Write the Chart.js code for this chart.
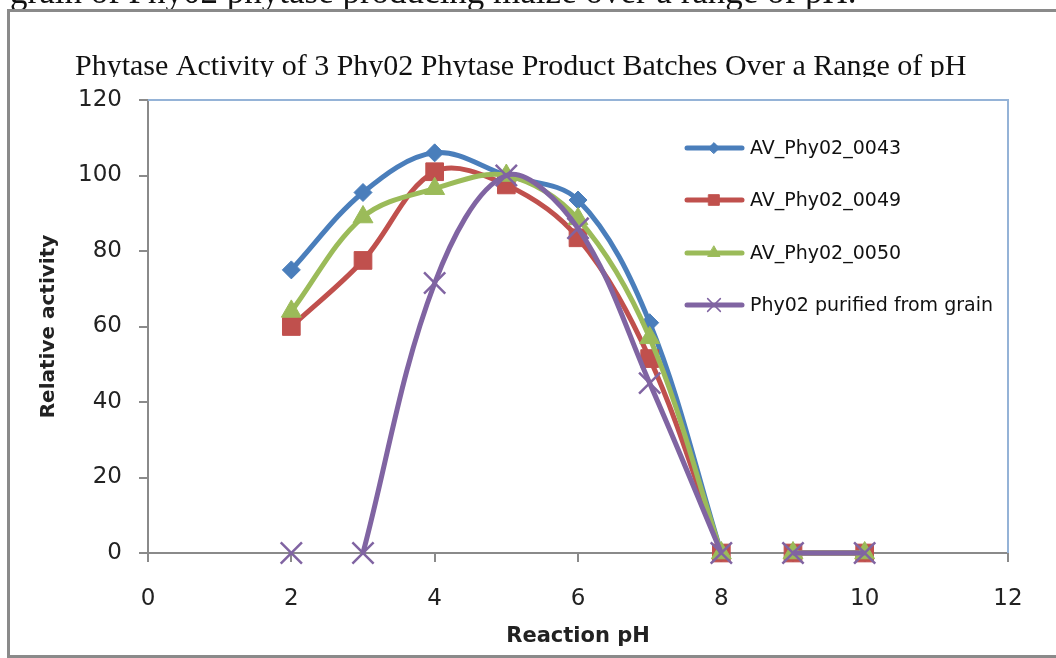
<!DOCTYPE html>
<html><head><meta charset="utf-8">
<script src="https://cdn.jsdelivr.net/npm/chart.js@4.4.1/dist/chart.umd.min.js"></script>
<style>html,body{margin:0;padding:0;background:#fff;overflow:hidden}
canvas{display:block}</style></head>
<body><canvas id="c" width="1056" height="658"></canvas>
<script>
// ---- data ----
const pageText = 'grain of Phy02 phytase producing maize over a range of pH.';
const chartTitle = 'Phytase Activity of 3 Phy02 Phytase Product Batches Over a Range of pH';
const xTitle = 'Reaction pH';
const yTitle = 'Relative activity';
const phValues = [2, 3, 4, 5, 6, 7, 8, 9, 10];
const seriesNames = ['AV_Phy02_0043', 'AV_Phy02_0049', 'AV_Phy02_0050', 'Phy02 purified from grain'];
const av0043 = [75, 95.5, 106, 100, 93.5, 61, 0, 0, 0];
const av0049 = [60, 77.5, 101, 97.5, 83.5, 51.5, 0, 0, 0];
const av0050 = [64, 89, 96.5, 100, 88.5, 57, 0, 0, 0];
const purified = [0, 0, 71.5, 100, 86, 45, 0, 0, 0];
const xTicks = [0, 2, 4, 6, 8, 10, 12];
const yTicks = [0, 20, 40, 60, 80, 100, 120];

// ---- styles ----
const colors = ['#4A7EBB', '#C0504D', '#9BBB59', '#8064A2'];
const shapes = ['rectRot', 'rect', 'triangle', 'crossRot'];
const radii = [9, 12.5, 11.5, 15];
// line is broken (not drawn) after these pH values, as in the source
const breakAfter = [[8], [8], [8], [2, 8]];
const seriesValues = [av0043, av0049, av0050, purified];

function buildPoints(vals, breaks) {
  const pts = [];
  phValues.forEach((x, j) => {
    pts.push({x: x, y: vals[j]});
    if (breaks.includes(x)) pts.push({x: x, y: null});
  });
  return pts;
}

const datasets = seriesValues.map((vals, i) => ({
  label: seriesNames[i],
  data: buildPoints(vals, breakAfter[i]),
  borderColor: colors[i],
  backgroundColor: colors[i],
  borderWidth: 5,
  pointStyle: shapes[i],
  pointRadius: radii[i],
  pointBorderWidth: i === 3 ? 2.5 : 1,
  pointBackgroundColor: colors[i],
  pointBorderColor: colors[i],
  tension: 0.35,
  spanGaps: false,
  clip: false,
  order: 3 - i
}));

const decor = {
  id: 'decor',
  beforeDraw(chart) {
    const ctx = chart.ctx;
    ctx.save();
    ctx.fillStyle = '#fff';
    ctx.fillRect(0, 0, chart.width, chart.height);
    // page text cut off above the figure
    ctx.fillStyle = '#111';
    ctx.font = '35px "Liberation Serif"';
    ctx.textBaseline = 'alphabetic';
    ctx.fillText(pageText, 10, 3);
    // outer frame
    ctx.strokeStyle = '#8a8a8a';
    ctx.lineWidth = 3;
    ctx.strokeRect(8.5, 10.5, 1100, 646);
    // title (clipped at its bottom like the source)
    ctx.beginPath();
    ctx.rect(0, 20, chart.width, 57);
    ctx.clip();
    ctx.fillStyle = '#111';
    ctx.font = '30px "Liberation Serif"';
    ctx.fillText(chartTitle, 75, 75);
    ctx.restore();
  },
  afterDraw(chart) {
    const ctx = chart.ctx;
    const a = chart.chartArea;
    ctx.save();
    // plot area top / right border
    ctx.strokeStyle = '#95B3D7';
    ctx.lineWidth = 2;
    ctx.beginPath();
    ctx.moveTo(a.left, a.top);
    ctx.lineTo(a.right, a.top);
    ctx.lineTo(a.right, a.bottom);
    ctx.stroke();
    // legend
    const ys = [148, 200, 253, 305];
    ctx.font = '19px "DejaVu Sans"';
    ctx.textBaseline = 'middle';
    chart.data.datasets.forEach((ds, i) => {
      const y = ys[i];
      ctx.strokeStyle = ds.borderColor;
      ctx.lineWidth = 5;
      ctx.lineCap = 'round';
      ctx.beginPath();
      ctx.moveTo(687, y);
      ctx.lineTo(742, y);
      ctx.stroke();
      ctx.fillStyle = ds.pointBackgroundColor;
      ctx.strokeStyle = ds.pointBorderColor;
      ctx.lineWidth = i === 3 ? 1.5 : 1;
      Chart.helpers.drawPoint(ctx, {pointStyle: ds.pointStyle, radius: ds.pointRadius * 0.6, rotation: 0, borderWidth: ctx.lineWidth}, 714, y);
      ctx.fillStyle = '#111';
      ctx.fillText(ds.label, 750, y + 1);
    });
    ctx.restore();
  }
};

new Chart(document.getElementById('c'), {
  type: 'line',
  data: {datasets},
  options: {
    responsive: false,
    animation: false,
    layout: {padding: {left: 0, top: 100, right: 48, bottom: 0}},
    plugins: {legend: {display: false}, tooltip: {enabled: false}, title: {display: false}},
    scales: {
      x: {
        type: 'linear', min: 0, max: 12,
        afterBuildTicks: s => { s.ticks = xTicks.map(v => ({value: v})); },
        afterFit: s => { s.height = 105; },
        grid: {drawOnChartArea: false, drawTicks: true, tickLength: 9, color: '#8a8a8a', lineWidth: 2},
        border: {color: '#8a8a8a', width: 2},
        ticks: {color: '#222', font: {family: 'DejaVu Sans', size: 23}, padding: 23},
        title: {display: true, text: xTitle, color: '#222', font: {family: 'DejaVu Sans', size: 21, weight: 'bold'}, padding: {top: 0, bottom: 9}}
      },
      y: {
        min: 0, max: 120,
        afterBuildTicks: s => { s.ticks = yTicks.map(v => ({value: v})); },
        afterFit: s => { s.width = 148; },
        grid: {drawOnChartArea: false, drawTicks: true, tickLength: 9, color: '#8a8a8a', lineWidth: 2},
        border: {color: '#8a8a8a', width: 2},
        ticks: {color: '#222', font: {family: 'DejaVu Sans', size: 23}, padding: 17},
        title: {display: true, text: yTitle, color: '#222', font: {family: 'DejaVu Sans', size: 20, weight: 'bold'}, padding: {top: 37, bottom: 0}}
      }
    }
  },
  plugins: [decor]
});
</script>
</body></html>
